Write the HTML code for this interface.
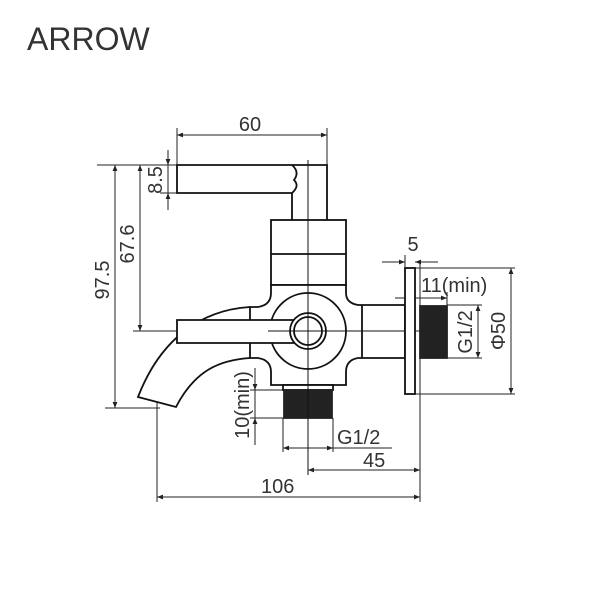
<!DOCTYPE html>
<html><head><meta charset="utf-8"><style>
body{margin:0;background:#fff;}
svg{display:block;font-family:"Liberation Sans",sans-serif;}
</style></head><body>
<svg width="600" height="600" viewBox="0 0 600 600" xmlns="http://www.w3.org/2000/svg">
<defs>
<marker id="a" viewBox="0 0 10 10" refX="10" refY="5" markerWidth="8" markerHeight="6" orient="auto-start-reverse"><path d="M0,1 L10,5 L0,9 z" fill="#222"/></marker>
</defs>
<text x="27" y="50" font-size="32" fill="#333">ARROW</text>
<g stroke="#222" fill="none" stroke-width="1">
<line x1="177" y1="128" x2="177" y2="165"/><line x1="327" y1="128" x2="327" y2="165"/>
<line x1="97" y1="165" x2="295" y2="165"/>
<line x1="160" y1="193" x2="178" y2="193"/>
<line x1="133" y1="331" x2="178" y2="331"/>
<line x1="105" y1="408" x2="160" y2="408"/>
<line x1="157" y1="400" x2="157" y2="502"/>
<line x1="308" y1="160" x2="308" y2="475"/>
<line x1="268" y1="331" x2="420" y2="331"/>
<line x1="283" y1="418" x2="283" y2="452"/><line x1="333" y1="418" x2="333" y2="452"/>
<line x1="420" y1="262" x2="420" y2="502"/>
<line x1="405" y1="255" x2="405" y2="268"/>
<line x1="415" y1="268" x2="515" y2="268"/><line x1="415" y1="394" x2="515" y2="394"/>
<line x1="447" y1="292" x2="447" y2="305"/>
<line x1="447" y1="305" x2="482" y2="305"/><line x1="447" y1="358" x2="482" y2="358"/>
<line x1="250" y1="390" x2="283" y2="390"/><line x1="250" y1="418" x2="283" y2="418"/>
<line x1="177" y1="135" x2="327" y2="135" marker-start="url(#a)" marker-end="url(#a)"/>
<line x1="168" y1="150" x2="168" y2="165" marker-end="url(#a)"/>
<line x1="168" y1="210" x2="168" y2="193" marker-end="url(#a)"/>
<line x1="168" y1="165" x2="168" y2="193"/>
<line x1="140" y1="165" x2="140" y2="331" marker-start="url(#a)" marker-end="url(#a)"/>
<line x1="115" y1="165" x2="115" y2="408" marker-start="url(#a)" marker-end="url(#a)"/>
<line x1="255" y1="368" x2="255" y2="390" marker-end="url(#a)"/>
<line x1="255" y1="445" x2="255" y2="418" marker-end="url(#a)"/>
<line x1="255" y1="390" x2="255" y2="418"/>
<line x1="283" y1="448" x2="333" y2="448" marker-start="url(#a)" marker-end="url(#a)"/>
<line x1="333" y1="448" x2="392" y2="448"/>
<line x1="308" y1="470" x2="420" y2="470" marker-start="url(#a)" marker-end="url(#a)"/>
<line x1="157" y1="497" x2="420" y2="497" marker-start="url(#a)" marker-end="url(#a)"/>
<line x1="382" y1="262" x2="405" y2="262" marker-end="url(#a)"/>
<line x1="438" y1="262" x2="415" y2="262" marker-end="url(#a)"/>
<line x1="395" y1="298" x2="447" y2="298" marker-end="url(#a)"/>
<line x1="478" y1="305" x2="478" y2="358" marker-start="url(#a)" marker-end="url(#a)"/>
<line x1="511" y1="268" x2="511" y2="394" marker-start="url(#a)" marker-end="url(#a)"/>
</g>
<g stroke="#111" fill="#fff" stroke-width="1.8">
<path d="M250,307 C200,310 160,340 138,397 L176,407 C195,370 220,360 250,358"/>
<path d="M177,165 L292,165 Q300,172 294,180 Q300,186 292,193 L177,193 Z"/>
<path d="M292,193 L292,220 M292,165 L327,165 L327,220" fill="none"/>
<rect x="271" y="220" width="75" height="65"/>
<line x1="271" y1="254" x2="346" y2="254"/>
<path d="M271,285 L271,293 Q271,305 258,307 L250,307 L250,358 L258,358 Q271,360 271,372 L271,385 L346,385 L346,372 Q346,360 358,358 L405,358 L405,305 L358,305 Q346,303 346,293 L346,285 Z"/>
<line x1="362" y1="305" x2="362" y2="358"/>
<circle cx="308" cy="331" r="38"/>
<path d="M177,320 L297,320 L297,343 L177,343 Z"/>
<circle cx="308" cy="331" r="18"/>
<circle cx="308" cy="331" r="14"/>
<rect x="283" y="385" width="50" height="5"/>
<rect x="284" y="390" width="48" height="28" fill="#222" stroke="#222"/>
<rect x="405" y="268" width="10" height="126"/>
<rect x="420" y="306" width="27" height="52" fill="#222" stroke="#222"/>
</g>
<g stroke="#111" stroke-width="1"><line x1="308" y1="160" x2="308" y2="475"/><line x1="268" y1="331" x2="405" y2="331"/></g>
<g fill="#333" font-size="20">
<text x="250" y="131" text-anchor="middle">60</text>
<text transform="translate(162,180) rotate(-90)" text-anchor="middle">8.5</text>
<text transform="translate(134,244) rotate(-90)" text-anchor="middle">67.6</text>
<text transform="translate(109,280) rotate(-90)" text-anchor="middle">97.5</text>
<text transform="translate(249,405) rotate(-90)" text-anchor="middle">10(min)</text>
<text x="337" y="444">G1/2</text>
<text x="363" y="467">45</text>
<text x="261" y="493">106</text>
<text x="413" y="251" text-anchor="middle">5</text>
<text x="421" y="292">11(min)</text>
<text transform="translate(472,332) rotate(-90)" text-anchor="middle">G1/2</text>
<text transform="translate(505,331) rotate(-90)" text-anchor="middle">Φ50</text>
</g>
</svg>
</body></html>
